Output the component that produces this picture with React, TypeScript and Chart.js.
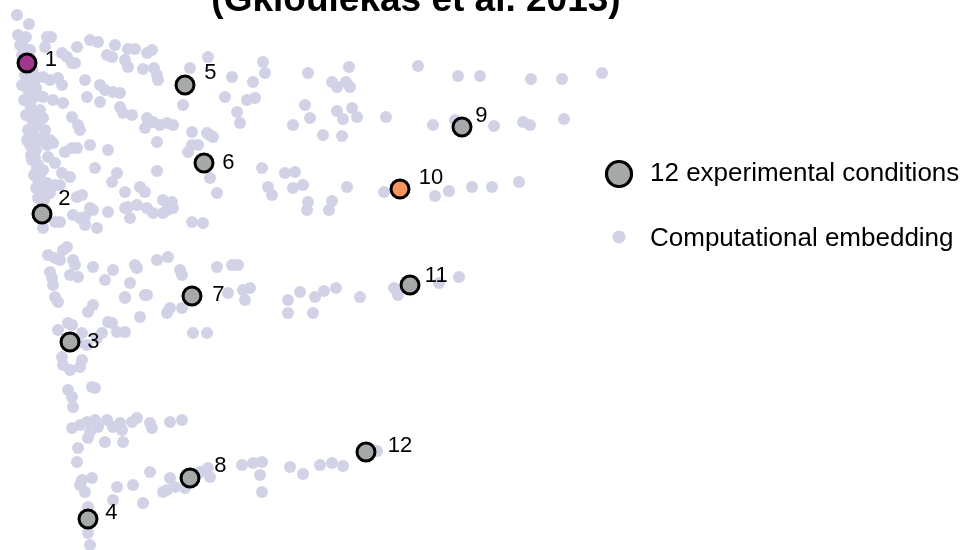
import React, { useEffect, useRef } from "react";
import { Chart, registerables } from "chart.js";

Chart.register(...registerables);

// ---- data (embedding coordinates) ----
const conditionLabels = ["1", "2", "3", "4", "5", "6", "7", "8", "9", "10", "11", "12"];
const conditionX = [27, 42, 70, 88, 185, 204, 192, 190, 462, 400, 410, 366];
const conditionY = [63, 214, 342, 519, 85, 163, 296, 478, 127, 189, 285, 452];
const conditionFill = ["#a2378f", "#a6a9a9", "#a6a9a9", "#a6a9a9", "#a6a9a9", "#a6a9a9", "#a6a9a9", "#a6a9a9", "#a6a9a9", "#f4955e", "#a6a9a9", "#a6a9a9"];

const embeddingTop: number[][] = [
  [17,15],[29,24],[18,35],[26,37],[47,37],[51,37],[45,47],[23,47],[30,50],[62,53],[67,57],[72,63],[77,47],[75,63],
  [90,40],[98,42],[115,45],[107,55],[112,57],[128,49],[135,49],[147,53],[152,50],[125,60],[128,67],[143,69],[154,68],
  [157,75],[158,80],[190,68],[208,57],[232,77],[225,97],[263,62],[265,73],[253,82],[247,100],[255,98],[308,73],
  [305,105],[310,118],[293,125],[183,105],[192,132],[207,133],[237,112],[240,123],[85,80],[100,85],[105,90],[113,92],
  [120,93],[87,97],[100,102],[120,107],[123,113],[132,115],[147,118],[153,122],[160,125],[167,123],[173,125],[145,128],
  [72,117],[78,125],[80,130],[43,77],[50,80],[58,78],[62,85],[43,97],[53,100],[63,103],[43,118],
  [349,67],[418,66],[458,76],[480,76],[531,79],[562,79],[602,73],[332,82],[337,87],[346,82],[350,87],[337,111],
  [343,119],[352,108],[357,117],[386,117],[433,125],[455,120],[494,126],[523,122],[530,125],[564,119],[323,135],
  [342,136],[210,135],[213,137],
];

const embeddingSpine: number[][] = [
  [20,45],[22,55],[25,75],[22,85],[28,90],[24,100],[30,105],[26,115],[32,120],[28,130],[34,135],[30,145],[36,150],
  [32,160],[38,165],[34,175],[40,178],[36,188],[42,190],[38,198],[44,200],[35,80],[38,95],[40,110],[45,130],[50,140],
  [33,72],[30,82],[36,88],[33,98],[35,112],[37,125],[40,140],[27,140],[31,155],
];

const embeddingMiddle: number[][] = [
  [33,145],[47,145],[53,143],[65,152],[72,148],[77,148],[90,145],[108,150],[157,142],[192,145],[198,145],[35,158],
  [48,157],[55,163],[37,168],[43,170],[62,173],[70,177],[95,168],[117,173],[112,182],[157,171],[188,152],[38,180],
  [47,183],[55,185],[60,185],[40,193],[50,193],[42,202],[77,197],[82,195],[125,192],[140,187],[145,192],[163,200],
  [172,202],[173,208],[167,210],[163,213],[128,207],[137,205],[125,208],[147,208],[153,213],[90,208],[93,210],
  [108,212],[85,217],[80,218],[130,218],[73,215],[60,222],[55,222],[43,228],[85,225],[97,228],[192,222],[203,223],
  [67,247],[63,250],[48,255],[55,258],[60,260],[73,260],[75,265],[93,267],[113,270],[135,265],[137,268],[157,260],
  [168,257],[180,270],[182,275],[50,272],[52,278],[70,275],[78,277],[53,285],[105,280],[130,283],[145,295],[55,297],
  [125,297],[262,168],[285,173],[295,172],[268,187],[272,195],[293,188],[303,185],[308,202],[307,210],[217,193],
  [210,178],[332,201],[329,210],[347,187],[384,192],[435,196],[449,191],[472,187],[492,187],[519,182],
  [217,267],[232,265],[238,265],[243,290],[250,288],[245,300],[228,293],[170,308],[167,313],[182,308],[193,333],
  [207,333],[288,300],[300,292],[315,297],[288,313],[313,313],[324,291],[336,288],[360,297],[394,288],[398,295],
  [439,283],[459,277],
];

const embeddingLower: number[][] = [
  [58,302],[93,305],[88,312],[125,298],[147,295],[140,317],[68,323],[72,325],[58,330],[82,333],[108,322],[112,323],
  [117,332],[125,332],[102,333],[97,338],[62,357],[63,365],[70,370],[82,360],[80,367],[78,343],[87,345],[68,390],
  [72,397],[73,407],[92,387],[95,388],[72,428],[80,425],[87,422],[95,420],[98,427],[90,432],[88,438],[107,420],
  [105,442],[113,427],[120,423],[122,430],[123,442],[132,422],[137,418],[150,423],[152,428],[170,422],[182,420],
  [78,448],[77,462],[82,480],[92,478],[80,485],[85,492],[117,487],[133,485],[150,472],[170,478],[167,490],[175,487],
  [163,492],[143,503],[113,500],[88,507],[88,533],[90,545],[242,465],[253,463],[262,462],[260,475],[262,492],
  [290,467],[303,474],[320,465],[200,472],[208,468],[210,477],[185,488],[332,463],[343,466],[377,451],
];

// label placement (pixel offsets from the marker), layout only
const labelDx = [20, 17, 18, 18, 20, 19, 21, 25, 14, 21, 17, 24];
const labelDy = [-5, -17, -2, -8, -14, -2, -2.5, -14, -13, -13, -11, -8];

const TITLE = "(Gkioulekas et al. 2013)";
const LEGEND_CONDITIONS = "12 experimental conditions";
const LEGEND_EMBEDDING = "Computational embedding";

const FONT = "'Liberation Sans', Arial, Helvetica, sans-serif";
const LAVENDER = "#d2d2e6";

export default function App() {
  const ref = useRef<HTMLCanvasElement | null>(null);
  useEffect(() => {
    if (!ref.current) return;
    const embedding = [...embeddingTop, ...embeddingSpine, ...embeddingMiddle, ...embeddingLower].map(([x, y]) => ({ x, y }));
    const conditions = conditionX.map((x, i) => ({ x, y: conditionY[i] }));

    const overlay = {
      id: "overlay",
      afterDatasetsDraw(chart: any) {
        const ctx = chart.ctx;
        const xs = chart.scales.x;
        const ys = chart.scales.y;
        ctx.save();
        // title (clipped at top)
        ctx.fillStyle = "#000";
        ctx.font = `bold 37px ${FONT}`;
        ctx.textAlign = "center";
        ctx.textBaseline = "alphabetic";
        ctx.fillText(TITLE, 416, 11);
        // condition labels
        ctx.font = `22px ${FONT}`;
        ctx.textAlign = "left";
        conditionLabels.forEach((lab, i) => {
          const px = xs.getPixelForValue(conditionX[i]);
          const py = ys.getPixelForValue(conditionY[i]);
          const bearing = lab.startsWith("1") ? 2.2 : 0.7;
          ctx.fillText(lab, px + labelDx[i] - bearing, py + labelDy[i] + 7.8);
        });
        // legend
        ctx.beginPath();
        ctx.arc(619, 174, 12.5, 0, Math.PI * 2);
        ctx.fillStyle = "#a6a9a9";
        ctx.fill();
        ctx.lineWidth = 3.2;
        ctx.strokeStyle = "#000";
        ctx.stroke();
        ctx.beginPath();
        ctx.arc(619, 237, 6.5, 0, Math.PI * 2);
        ctx.fillStyle = LAVENDER;
        ctx.fill();
        ctx.fillStyle = "#000";
        ctx.font = `26px ${FONT}`;
        ctx.fillText(LEGEND_CONDITIONS, 650, 181);
        ctx.fillText(LEGEND_EMBEDDING, 650, 246);
        ctx.restore();
      },
    };

    const chart = new Chart(ref.current, {
      type: "scatter",
      data: {
        datasets: [
          {
            label: LEGEND_CONDITIONS,
            data: conditions,
            order: 0,
            pointRadius: 9,
            pointBorderWidth: 3,
            pointBackgroundColor: conditionFill,
            pointBorderColor: "#000",
            clip: false,
          },
          {
            label: LEGEND_EMBEDDING,
            data: embedding,
            order: 1,
            pointRadius: 6,
            pointBorderWidth: 0,
            pointBackgroundColor: LAVENDER,
            pointBorderColor: LAVENDER,
            clip: false,
          },
        ],
      },
      options: {
        responsive: false,
        animation: false,
        devicePixelRatio: 1,
        layout: { padding: 0, autoPadding: false },
        plugins: { legend: { display: false }, tooltip: { enabled: false }, title: { display: false } },
        scales: {
          x: { type: "linear", min: 0, max: 972, display: false },
          y: { type: "linear", min: 0, max: 550, reverse: true, display: false },
        },
      },
      plugins: [overlay],
    } as any);
    return () => chart.destroy();
  }, []);

  return (
    <div style={{ position: "fixed", left: 0, top: 0, width: 972, height: 550, background: "#fff" }}>
      <canvas ref={ref} width={972} height={550} style={{ display: "block" }} />
    </div>
  );
}
